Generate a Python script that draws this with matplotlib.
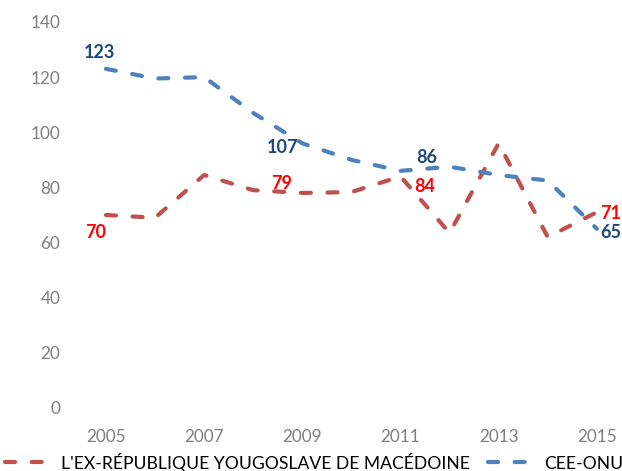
import matplotlib
matplotlib.use("Agg")
import matplotlib.pyplot as plt

plt.rcParams["font.family"] = ["Lato", "DejaVu Sans"]

# ---------- Data ----------
years = list(range(2005, 2016))
mkd = [70, 69, 84.5, 79, 78, 78.3, 84, 63.5, 96, 62, 71]
unece = [123, 119.5, 120, 107, 96, 90, 86, 87.5, 84.5, 82.5, 65]

mkd_name = "L'EX-RÉPUBLIQUE YOUGOSLAVE DE MACÉDOINE"
unece_name = "CEE-ONU"

# labelled points: (text, x, y) in data units
mkd_labels = [("70", 2004.79, 63.8), ("79", 2008.57, 81.6),
              ("84", 2011.49, 80.5), ("71", 2015.29, 70.7)]
unece_labels = [("123", 2004.86, 128.8), ("107", 2008.59, 94.3),
                ("86", 2011.53, 91.0), ("65", 2015.29, 63.8)]

RED = "#C0504D"
BLUE = "#4F81BD"

fig = plt.figure(figsize=(6.22, 4.71), dpi=100)
ax = fig.add_axes([0.1125, 0.1338, 0.876, 0.8195])

for vals, col, name in [(mkd, RED, mkd_name), (unece, BLUE, unece_name)]:
    ax.plot(years, vals, color=col, linewidth=3, dashes=(2.4, 4),
            dash_capstyle="round", label=name)

for txt, x, y in mkd_labels:
    ax.text(x, y, txt, color="#FF0000", fontsize=13, fontweight="bold",
            ha="center", va="center")
for txt, x, y in unece_labels:
    ax.text(x, y, txt, color="#1F497D", fontsize=13, fontweight="bold",
            ha="center", va="center")

ax.set_xlim(2004.267, 2015.367)
ax.set_ylim(0, 140)
ax.set_xticks(years[::2])
ax.set_yticks(range(0, 141, 20))
ax.tick_params(axis="both", length=0, labelsize=12.3, labelcolor="#7F7F7F")
ax.tick_params(axis="x", pad=15)
ax.tick_params(axis="y", pad=7)
for s in ax.spines.values():
    s.set_visible(False)

fig.legend(loc="center", bbox_to_anchor=(0.505, 0.019), ncol=2, frameon=False,
           fontsize=12.6, handlelength=2.6, handletextpad=0.6, columnspacing=1.0,
           borderaxespad=0)

fig.savefig("out.png", dpi=100)
